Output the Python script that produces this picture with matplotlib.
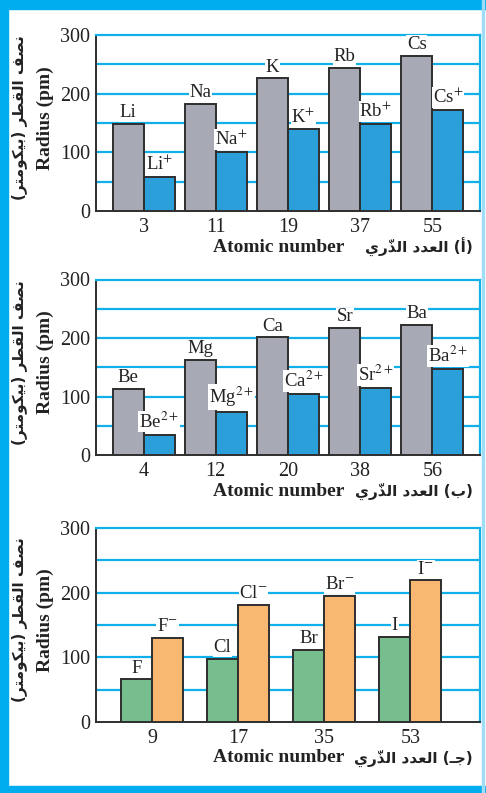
import matplotlib
matplotlib.use('Agg')
import numpy as np
import matplotlib.pyplot as plt
from matplotlib.patches import Rectangle

plt.rcParams['font.family'] = ['Liberation Serif', 'DejaVu Sans']
plt.rcParams['mathtext.fontset'] = 'stix'

# panel (a) - alkali metals
a_numbers = ['3', '11', '19', '37', '55']
a_atoms = ['Li', 'Na', 'K', 'Rb', 'Cs']
a_ions = ['Li$^{+}$', 'Na$^{+}$', 'K$^{+}$', 'Rb$^{+}$', 'Cs$^{+}$']
a_atom_r = [149, 183, 226, 244, 265]
a_ion_r = [58, 101, 139, 148, 172]

# panel (b) - alkaline earth metals
b_numbers = ['4', '12', '20', '38', '56']
b_atoms = ['Be', 'Mg', 'Ca', 'Sr', 'Ba']
b_ions = ['Be$^{2+}$', 'Mg$^{2+}$', 'Ca$^{2+}$', 'Sr$^{2+}$', 'Ba$^{2+}$']
b_atom_r = [113, 162, 201, 217, 223]
b_ion_r = [35, 74, 104, 115, 147]

# panel (c) - halogens
c_numbers = ['9', '17', '35', '53']
c_atoms = ['F', 'Cl', 'Br', 'I']
c_ions = ['F$^{-}$', 'Cl$^{-}$', 'Br$^{-}$', 'I$^{-}$']
c_atom_r = [66, 98, 112, 132]
c_ion_r = [130, 181, 195, 219]

# arabic text, pre-shaped in visual order (matplotlib has no bidi/shaping)
ylab_ar = '(\uFEAE\uFE98\uFEE3\uFEEE\uFEDC\uFEF4\uFE91) \uFEAE\uFEC4\uFED8\uFEDF\uFE8D \uFED2\uFEBC\uFEE7'
xlab_ar = '\uFEF1\uFEAD\u0651\uFEAC\uFEDF\uFE8D \uFEA9\uFEAA\uFECC\uFEDF\uFE8D'
panel_tags = ['(\uFE83)', '(\uFE8F)', '(\u0640\uFE9F)']

GRAY = '#a7a9b4'
BLUE = '#2b9fd9'
GREEN = '#77be8f'
ORANGE = '#f8b872'
CYAN = '#12b0e8'
EDGE = '#2e2e2e'

W, H = 486, 793
fig = plt.figure(figsize=(W / 100, H / 100), dpi=100)


def px(x, y):
    return x / W, 1 - y / H


def make_panel(top, bottom, numbers, atoms, ions, atom_r, ion_r, c1, c2, xlim, width, tag):
    left, right = 96, 480
    ax = fig.add_axes([left / W, 1 - bottom / H, (right - left) / W, (bottom - top) / H])
    x = np.arange(len(numbers))
    b1 = ax.bar(x - width / 2, atom_r, width, color=c1, edgecolor=EDGE, linewidth=1.4, zorder=3)
    b2 = ax.bar(x + width / 2, ion_r, width, color=c2, edgecolor=EDGE, linewidth=1.4, zorder=3)
    for bars, labels in ((b1, atoms), (b2, ions)):
        for rect, lab in zip(bars, labels):
            ax.annotate(lab, (rect.get_x() + rect.get_width() / 2, rect.get_height()),
                        xytext=(0, 2), textcoords='offset points', ha='center', va='bottom',
                        fontsize=13.5, color='#222222', zorder=4,
                        bbox=dict(facecolor='white', edgecolor='none', pad=0.5))
    ax.set_xlim(*xlim)
    ax.set_ylim(0, 300)
    ax.set_yticks([0, 100, 200, 300])
    ax.set_xticks(x)
    ax.set_xticklabels(numbers)
    for yv in [50, 100, 150, 200, 250]:
        ax.axhline(yv, color=CYAN, linewidth=1.6, zorder=1)
    ax.tick_params(length=0, labelsize=14.5, colors='#222222')
    ax.tick_params(axis='y', pad=4)
    ax.tick_params(axis='x', pad=5)
    ax.spines['left'].set_color(EDGE)
    ax.spines['bottom'].set_color(EDGE)
    ax.spines['left'].set_linewidth(1.4)
    ax.spines['bottom'].set_linewidth(1.4)
    ax.spines['top'].set_color(CYAN)
    ax.spines['right'].set_color(CYAN)
    ax.spines['top'].set_linewidth(1.6)
    ax.spines['right'].set_linewidth(1.6)

    yc = (top + bottom) / 2 - 5
    fig.text(*px(45, yc), 'Radius (pm)', rotation=90, ha='center', va='center',
             fontsize=14, fontweight='bold', color='#222222')
    fig.text(*px(19, yc), ylab_ar, rotation=90, ha='center', va='center',
             fontsize=11, fontweight='bold', family='DejaVu Sans', color='#222222')
    xl_y = bottom + 36
    fig.text(*px(213, xl_y), 'Atomic number', ha='left', va='center',
             fontsize=14, fontweight='bold', color='#222222')
    fig.text(*px(473, xl_y), xlab_ar + ' ' + tag, ha='right', va='center',
             fontsize=11, fontweight='bold', family='DejaVu Sans', color='#222222')
    return ax


make_panel(35, 211, a_numbers, a_atoms, a_ions, a_atom_r, a_ion_r, GRAY, BLUE,
           (-0.66, 4.66), 0.43, panel_tags[0])
make_panel(279.5, 455, b_numbers, b_atoms, b_ions, b_atom_r, b_ion_r, GRAY, BLUE,
           (-0.66, 4.66), 0.43, panel_tags[1])
make_panel(528, 722, c_numbers, c_atoms, c_ions, c_atom_r, c_ion_r, GREEN, ORANGE,
           (-0.65, 3.81), 0.36, panel_tags[2])

# blue page frame
frame = '#00aeef'
fig.patches.append(Rectangle((0, 0), 8 / W, 1, transform=fig.transFigure, color=frame, zorder=0))
fig.patches.append(Rectangle((0, 1 - 9 / H), 1, 9 / H, transform=fig.transFigure, color=frame, zorder=0))
fig.patches.append(Rectangle((0, 0), 1, 7 / H, transform=fig.transFigure, color=frame, zorder=0))
fig.patches.append(Rectangle((482 / W, 0), 2 / W, 1, transform=fig.transFigure, color='#9fdcf5', zorder=0))

fig.savefig('out.png', dpi=100)
